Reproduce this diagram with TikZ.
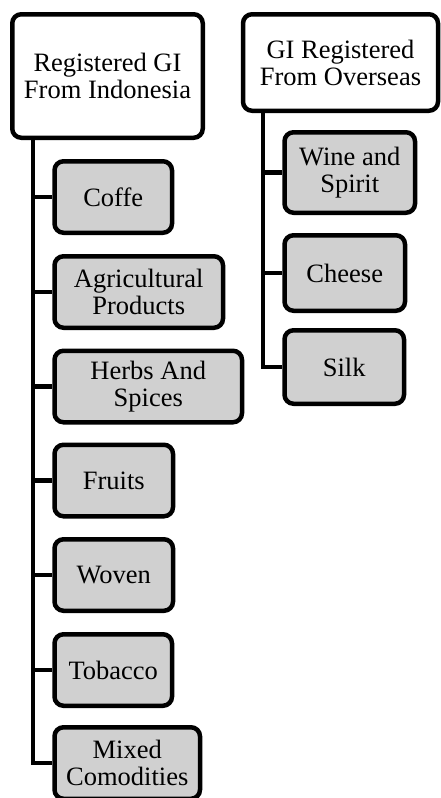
\documentclass[tikz,border=0pt]{standalone}
\usepackage{fontspec}
\setmainfont{Liberation Serif}
\usetikzlibrary{positioning}
\definecolor{boxgray}{RGB}{208,208,208}
\tikzset{
  rootbox/.style={draw,line width=4.5pt,rounded corners=9pt,fill=white,align=center,inner sep=0pt},
  itembox/.style={rootbox,fill=boxgray,anchor=west},
  trunk/.style={line width=4.5pt}
}

\begin{document}
\begin{tikzpicture}[x=1pt,y=-1pt,font=\fontsize{26.5}{27}\selectfont]
  \useasboundingbox (0,0) rectangle (440,798);

  % rădăcini
  \node[rootbox,minimum width=190.5pt,minimum height=123.5pt] (indo) at (107.5,76) {Registered GI\\From Indonesia};
  \node[rootbox,minimum width=195pt,minimum height=96.5pt] (over) at (340.5,62.5) {GI Registered\\From Overseas};

  % trunchiuri
  \coordinate (tl) at (33,0);
  \coordinate (tr) at (263,0);

  % categorii din Indonezia
  \foreach \nume/\txt/\y/\w in {coffe/Coffe/197/117.5,
      agri/{Agricultural\\Products}/292/168.5,
      herbs/{Herbs And\\Spices}/386.5/187.5,
      fruits/Fruits/480.5/118.5,
      woven/Woven/575/118.5,
      tobacco/Tobacco/670/117.5,
      mixed/{Mixed\\Comodities}/763/145.5}
    \node[itembox,minimum width=\w pt,minimum height=71.5pt] (\nume) at (52.25,\y) {\txt};

  % categorii din străinătate
  \foreach \nume/\txt/\y/\w/\h in {wine/{Wine and\\Spirit}/172.5/130.5/80.5,
      cheese/Cheese/273/120.5/75.5,
      silk/Silk/367/119.5/73.5}
    \node[itembox,minimum width=\w pt,minimum height=\h pt] (\nume) at (282.25,\y) {\txt};

  % ramuri
  \draw[trunk] (indo.south -| tl) |- (mixed.west);
  \foreach \nume in {coffe,agri,herbs,fruits,woven,tobacco}
    \draw[trunk] (\nume.west -| tl) -- (\nume.west);
  \draw[trunk] (over.south -| tr) |- (silk.west);
  \foreach \nume in {wine,cheese}
    \draw[trunk] (\nume.west -| tr) -- (\nume.west);
\end{tikzpicture}
\end{document}
